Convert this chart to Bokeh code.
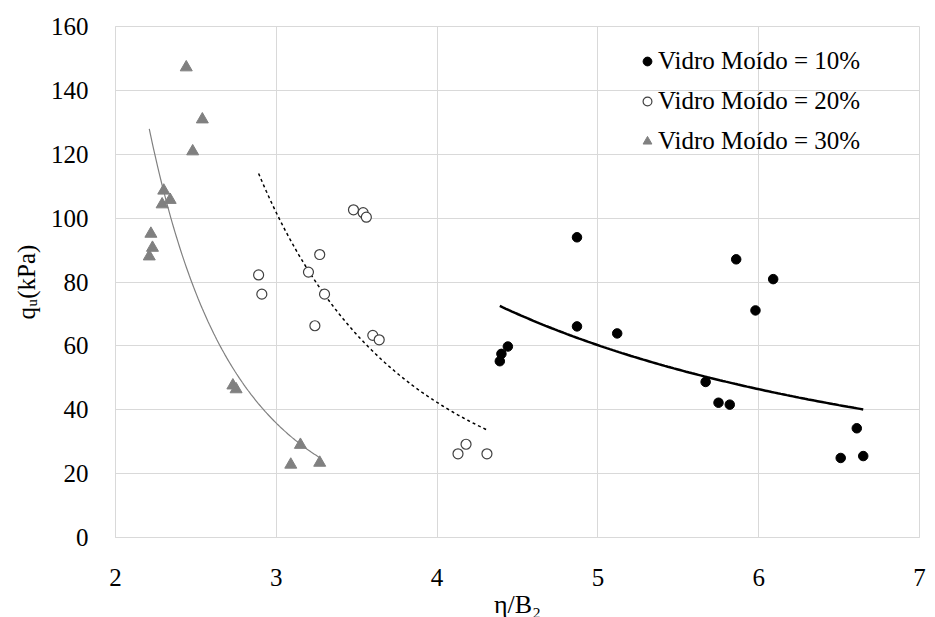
import numpy as np
from bokeh.plotting import figure
from bokeh.models import Range1d, FixedTicker, Legend, LegendItem
from bokeh.embed import file_html
from bokeh.resources import INLINE

# ---- data ----
x10 = [4.87, 5.86, 6.09, 5.98, 4.87, 5.12, 4.44, 4.40, 4.39, 5.67, 5.75, 5.82, 6.61, 6.51, 6.65]
y10 = [94.0, 87.1, 80.9, 71.1, 66.1, 63.9, 59.8, 57.5, 55.2, 48.7, 42.2, 41.6, 34.2, 24.9, 25.5]

x20 = [3.48, 3.54, 3.56, 3.27, 2.89, 2.91, 3.20, 3.30, 3.24, 3.60, 3.64, 4.18, 4.13, 4.31]
y20 = [102.6, 101.7, 100.3, 88.6, 82.2, 76.2, 83.1, 76.2, 66.3, 63.3, 61.9, 29.2, 26.2, 26.2]

x30 = [2.44, 2.54, 2.48, 2.30, 2.34, 2.29, 2.22, 2.23, 2.21, 2.73, 2.75, 3.15, 3.09, 3.27]
y30 = [147.2, 130.9, 120.9, 108.6, 105.7, 104.3, 95.1, 90.7, 88.0, 47.6, 46.4, 29.0, 22.8, 23.4]

labels = ["Vidro Moído = 10%", "Vidro Moído = 20%", "Vidro Moído = 30%"]
x_ticks = [2, 3, 4, 5, 6, 7]
y_ticks = [0, 20, 40, 60, 80, 100, 120, 140, 160]
x_title = "η/B₂"
y_title = "qᵤ(kPa)"

FONT = "Liberation Serif"


def power_trend(xs, ys, n=120):
    """Excel-style power trendline fitted from the data."""
    lx, ly = np.log(xs), np.log(ys)
    b, ln_a = np.polyfit(lx, ly, 1)
    xx = np.linspace(min(xs), max(xs), n)
    return xx, np.exp(ln_a) * xx ** b


p = figure(frame_width=804, frame_height=511, output_backend="svg", toolbar_location=None,
           x_range=Range1d(2, 7), y_range=Range1d(0, 160))
p.min_border_left = 115
p.min_border_right = 16
p.min_border_top = 26
p.min_border_bottom = 60

p.outline_line_color = "#d9d9d9"
p.background_fill_color = "white"
p.border_fill_color = "white"

for ax, ticks in ((p.xaxis[0], x_ticks), (p.yaxis[0], y_ticks)):
    ax.ticker = FixedTicker(ticks=ticks)
    ax.axis_line_color = "#d9d9d9"
    ax.major_tick_line_color = None
    ax.minor_tick_line_color = None
    ax.major_label_text_font = FONT
    ax.major_label_text_font_size = "25px"
    ax.major_label_text_color = "#000000"
    ax.axis_label_text_font = FONT
    ax.axis_label_text_font_style = "normal"
    ax.axis_label_text_color = "#000000"

p.xaxis.major_label_standoff = 25
p.yaxis.major_label_standoff = 21
p.xaxis.axis_label = x_title
p.xaxis.axis_label_text_font_size = "26px"
p.xaxis.axis_label_standoff = 1
p.yaxis.axis_label = y_title
p.yaxis.axis_label_text_font_size = "25px"
p.yaxis.axis_label_standoff = 8

p.xgrid.ticker = FixedTicker(ticks=x_ticks)
p.ygrid.ticker = FixedTicker(ticks=y_ticks)
p.grid.grid_line_color = "#d9d9d9"
p.grid.grid_line_width = 1

# trendlines
tx10, ty10 = power_trend(x10, y10)
tx20, ty20 = power_trend(x20, y20)
tx30, ty30 = power_trend(x30, y30)
p.line(tx30, ty30, line_color="#808080", line_width=1.2)
p.line(tx20, ty20, line_color="#000000", line_width=1.5, line_dash="3 3")
p.line(tx10, ty10, line_color="#000000", line_width=2.5)

# points
r10 = p.scatter(x10, y10, marker="circle", size=9.5, fill_color="#000000", line_color="#000000")
r20 = p.scatter(x20, y20, marker="circle", size=10, fill_color="#ffffff", line_color="#404040", line_width=1.2)
r30 = p.scatter(x30, y30, marker="triangle", size=12, fill_color="#808080", line_color="#808080")

legend = Legend(items=[LegendItem(label=labels[0], renderers=[r10]),
                       LegendItem(label=labels[1], renderers=[r20]),
                       LegendItem(label=labels[2], renderers=[r30])],
                location=(521, 381))
legend.label_text_font = FONT
legend.label_text_font_size = "25px"
legend.label_text_color = "#000000"
legend.background_fill_alpha = 0
legend.border_line_alpha = 0
legend.padding = 0
legend.margin = 0
legend.spacing = 10
legend.glyph_width = 22
legend.glyph_height = 22
legend.label_height = 30
legend.label_standoff = 0
p.add_layout(legend, "center")

open("out.html", "w").write(file_html(p, INLINE))
